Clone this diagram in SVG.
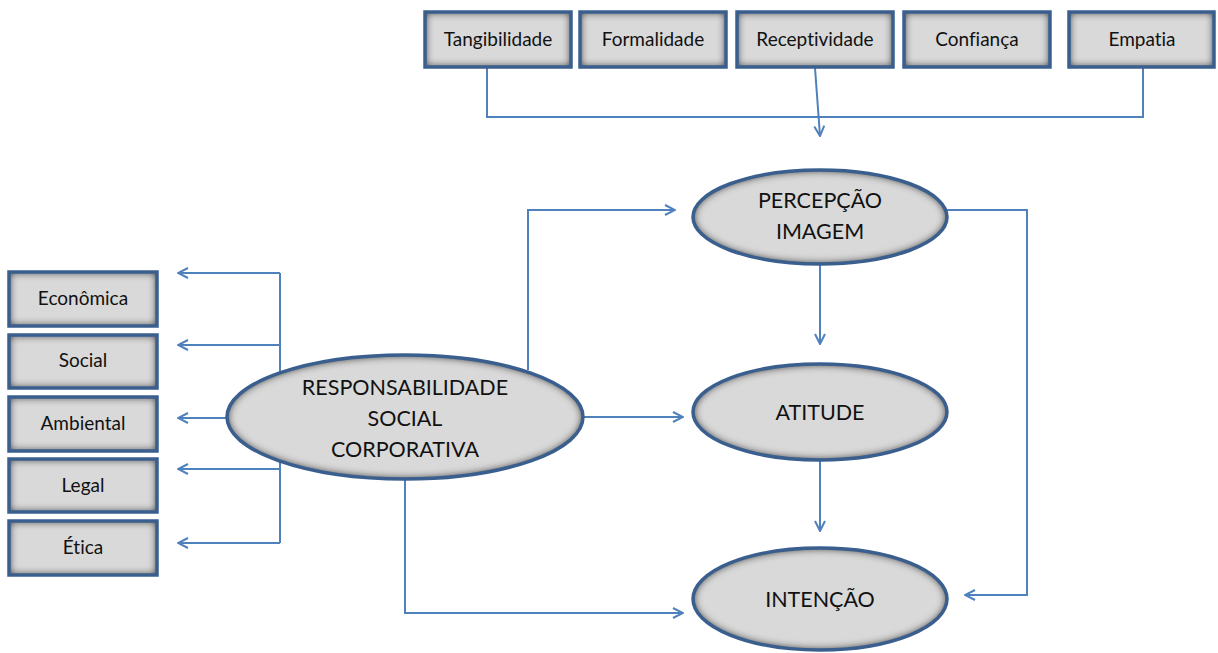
<svg xmlns="http://www.w3.org/2000/svg" width="1218" height="653" viewBox="0 0 1218 653">
  <style>
    .fill { fill: #d9d9d9; filter: url(#inset); }
    .edge { fill: none; stroke: #3a5f8e; stroke-width: 3.5; }
    .lbl { font-family: Lato, "Open Sans", sans-serif; fill: #111; text-anchor: middle; font-variant-ligatures: none; }
    .box { font-size: 19px; }
    .big { font-size: 21.5px; }
    .wire { fill: none; stroke: #4f81bd; stroke-width: 2; }
    .arr { marker-end: url(#head); }
  </style>
  <defs>
    <filter id="inset" x="-10%" y="-10%" width="120%" height="120%">
      <feFlood flood-color="#2a2a2a"/>
      <feComposite in2="SourceAlpha" operator="out"/>
      <feGaussianBlur stdDeviation="4.5"/>
      <feComposite in2="SourceAlpha" operator="in" result="shade"/>
      <feMerge><feMergeNode in="SourceGraphic"/><feMergeNode in="shade"/><feMergeNode in="shade"/></feMerge>
    </filter>
    <marker id="head" viewBox="0 0 12 12" refX="11" refY="6" markerWidth="12" markerHeight="12" markerUnits="userSpaceOnUse" orient="auto">
      <path d="M1,1 L11,6 L1,11" fill="none" stroke="#4f81bd" stroke-width="2"/>
    </marker>
  </defs>

  <!-- connectors -->
  <g id="connectors">
    <polyline class="wire" points="487,68 487,117 1143,117 1143,68"/>
    <line class="wire arr" x1="815" y1="68" x2="820" y2="136"/>
    <line class="wire" x1="280" y1="273" x2="280" y2="543"/>
    <line class="wire arr" x1="280" y1="273" x2="178" y2="273"/>
    <line class="wire arr" x1="280" y1="345" x2="178" y2="345"/>
    <line class="wire arr" x1="228" y1="418" x2="178" y2="418"/>
    <line class="wire arr" x1="280" y1="469" x2="178" y2="469"/>
    <line class="wire arr" x1="280" y1="543" x2="178" y2="543"/>
    <polyline class="wire arr" points="528,370 528,210 675,210"/>
    <line class="wire arr" x1="583" y1="417" x2="683" y2="417"/>
    <polyline class="wire arr" points="405,478 405,613 683,613"/>
    <line class="wire arr" x1="820" y1="263" x2="820" y2="344"/>
    <line class="wire arr" x1="820" y1="460" x2="820" y2="531"/>
    <polyline class="wire arr" points="947,210 1027,210 1027,595 965,595"/>
  </g>

  <!-- dimension boxes -->
  <g id="tangibilidade">
    <rect class="fill" x="425" y="12" width="146" height="55"/>
    <rect class="edge" x="425" y="12" width="146" height="55"/>
    <text class="lbl box" x="498" y="46">Tangibilidade</text>
  </g>
  <g id="formalidade">
    <rect class="fill" x="580" y="12" width="146" height="55"/>
    <rect class="edge" x="580" y="12" width="146" height="55"/>
    <text class="lbl box" x="653" y="46">Formalidade</text>
  </g>
  <g id="receptividade">
    <rect class="fill" x="737" y="12" width="156" height="55"/>
    <rect class="edge" x="737" y="12" width="156" height="55"/>
    <text class="lbl box" x="815" y="46">Receptividade</text>
  </g>
  <g id="confianca">
    <rect class="fill" x="904" y="12" width="146" height="55"/>
    <rect class="edge" x="904" y="12" width="146" height="55"/>
    <text class="lbl box" x="977" y="46">Confiança</text>
  </g>
  <g id="empatia">
    <rect class="fill" x="1069" y="12" width="145" height="55"/>
    <rect class="edge" x="1069" y="12" width="145" height="55"/>
    <text class="lbl box" x="1142" y="46">Empatia</text>
  </g>

  <g id="economica">
    <rect class="fill" x="9" y="272" width="148" height="54"/>
    <rect class="edge" x="9" y="272" width="148" height="54"/>
    <text class="lbl box" x="83" y="305">Econômica</text>
  </g>
  <g id="social">
    <rect class="fill" x="9" y="335" width="148" height="53"/>
    <rect class="edge" x="9" y="335" width="148" height="53"/>
    <text class="lbl box" x="83" y="367">Social</text>
  </g>
  <g id="ambiental">
    <rect class="fill" x="9" y="397" width="148" height="54"/>
    <rect class="edge" x="9" y="397" width="148" height="54"/>
    <text class="lbl box" x="83" y="430">Ambiental</text>
  </g>
  <g id="legal">
    <rect class="fill" x="9" y="459" width="148" height="53"/>
    <rect class="edge" x="9" y="459" width="148" height="53"/>
    <text class="lbl box" x="83" y="492">Legal</text>
  </g>
  <g id="etica">
    <rect class="fill" x="9" y="521" width="148" height="54"/>
    <rect class="edge" x="9" y="521" width="148" height="54"/>
    <text class="lbl box" x="83" y="554">Ética</text>
  </g>

  <!-- constructs -->
  <g id="rsc">
    <ellipse class="fill" cx="405" cy="417" rx="178" ry="62"/>
    <ellipse class="edge" cx="405" cy="417" rx="178" ry="62"/>
    <text class="lbl big" x="405" y="395">RESPONSABILIDADE</text>
    <text class="lbl big" x="405" y="426">SOCIAL</text>
    <text class="lbl big" x="405" y="457">CORPORATIVA</text>
  </g>
  <g id="percepcao">
    <ellipse class="fill" cx="820" cy="217" rx="127" ry="47"/>
    <ellipse class="edge" cx="820" cy="217" rx="127" ry="47"/>
    <text class="lbl big" x="820" y="208">PERCEPÇÃO</text>
    <text class="lbl big" x="820" y="239">IMAGEM</text>
  </g>
  <g id="atitude">
    <ellipse class="fill" cx="820" cy="412" rx="127" ry="48"/>
    <ellipse class="edge" cx="820" cy="412" rx="127" ry="48"/>
    <text class="lbl big" x="820" y="420">ATITUDE</text>
  </g>
  <g id="intencao">
    <ellipse class="fill" cx="820" cy="599" rx="127" ry="51"/>
    <ellipse class="edge" cx="820" cy="599" rx="127" ry="51"/>
    <text class="lbl big" x="820" y="607">INTENÇÃO</text>
  </g>
</svg>
